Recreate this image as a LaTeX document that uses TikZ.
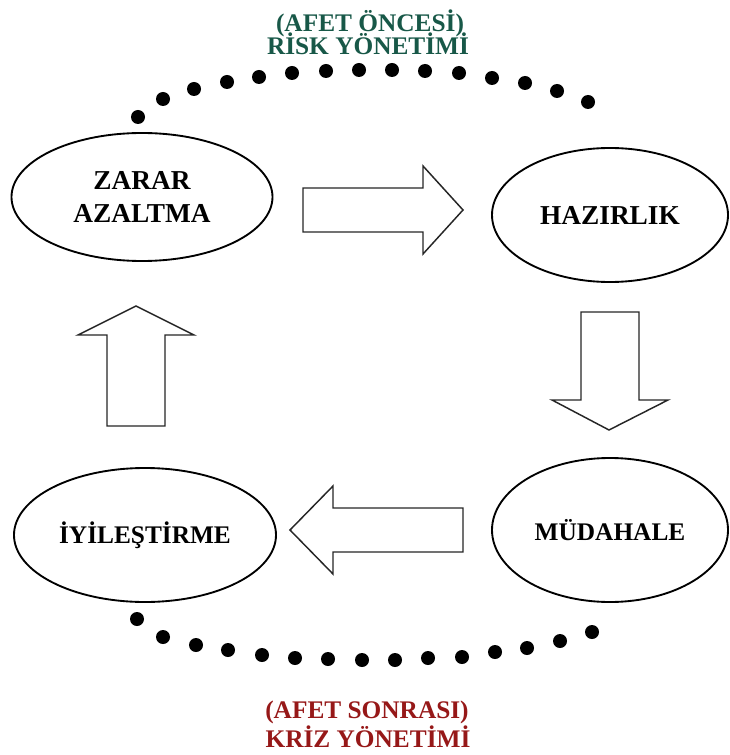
\documentclass[tikz,border=0pt]{standalone}
\usepackage{fontspec}
\setmainfont{Liberation Serif}
\usetikzlibrary{shapes.geometric}
\definecolor{riskgreen}{RGB}{24,88,72}
\definecolor{krizred}{RGB}{150,24,24}
\begin{document}
\begin{tikzpicture}[x=0.75pt,y=-0.75pt,
  phase/.style={draw=black,line width=1.4pt,ellipse,inner sep=0pt,align=center,
    font=\fontsize{19}{24.75}\selectfont\bfseries},
  bigphase/.style={phase,font=\fontsize{20.5}{24.75}\selectfont\bfseries},
  blockarrow/.style={draw=black!85,line width=1.1pt,fill=white,line join=miter},
  dotmark/.style={fill=black},
  toplab/.style={font=\fontsize{19}{23}\selectfont\bfseries,text=riskgreen,anchor=base,inner sep=0pt},
  botlab/.style={font=\fontsize{19}{23}\selectfont\bfseries,text=krizred,anchor=base,inner sep=0pt}]
\useasboundingbox (0,0) rectangle (729,755);

% phases
\node[bigphase,minimum width=261pt*0.75,minimum height=128pt*0.75] (zarar) at (142,197) {ZARAR\\AZALTMA};
\node[bigphase,minimum width=236pt*0.75,minimum height=134pt*0.75] (hazir) at (610,215) {HAZIRLIK};
\node[phase,minimum width=262pt*0.75,minimum height=134pt*0.75] (iyiles) at (145,535) {İYİLEŞTİRME};
\node[phase,minimum width=236pt*0.75,minimum height=144pt*0.75] (mudah) at (610,530) {MÜDAHALE};

% block arrows
\draw[blockarrow] (303,188) -- (423,188) -- (423,166) -- (463,210) -- (423,254) -- (423,232) -- (303,232) -- cycle;
\draw[blockarrow] (581,312) -- (639,312) -- (639,400) -- (668,400) -- (609,430) -- (552,400) -- (581,400) -- cycle;
\draw[blockarrow] (463,508) -- (333,508) -- (333,486) -- (290,530) -- (333,574) -- (333,552) -- (463,552) -- cycle;
\draw[blockarrow] (107,426) -- (107,335) -- (78,335) -- (136,306) -- (194,335) -- (165,335) -- (165,426) -- cycle;

% dotted arcs
\foreach \px/\py in {138/117,163/99,194/89,227/82,259/77,292/73,326/71,359/70,392/70,425/71,459/73,492/78,525/83,557/91,588/102}
  \fill[dotmark] (\px,\py) circle (7);
\foreach \px/\py in {137/619,163/637,196/645,228/650,262/655,295/658,328/659,362/660,395/660,428/658,462/657,495/652,527/648,560/641,592/632}
  \fill[dotmark] (\px,\py) circle (7);

% labels
\node[toplab] (top1) at (370,32) {(AFET ÖNCESİ)};
\node[toplab] (top2) at (368,55) {RİSK YÖNETİMİ};
\node[botlab] (bot1) at (367,718) {(AFET SONRASI)};
\node[botlab] (bot2) at (368,747) {KRİZ YÖNETİMİ};
\end{tikzpicture}
\end{document}
